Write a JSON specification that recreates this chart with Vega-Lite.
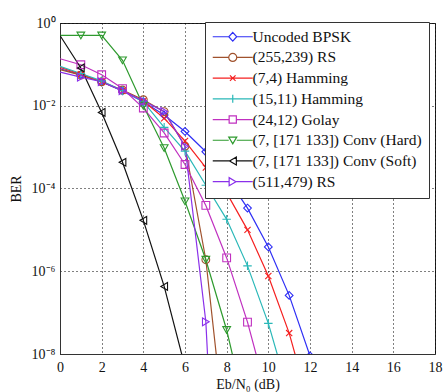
{
  "$schema": "https://vega.github.io/schema/vega-lite/v6.json",
  "autosize": {"type": "none"},
  "padding": {"left": 60, "top": 23, "right": 8, "bottom": 38},
  "width": 375,
  "height": 331,
  "config": {
    "view": {"stroke": "#222", "strokeWidth": 1},
    "axis": {"labelFont": "Liberation Serif", "titleFont": "Liberation Serif", "labelFontSize": 14, "titleFontSize": 14, "titleFontWeight": "normal", "labelColor": "#111", "titleColor": "#111", "gridColor": "#000", "gridDash": [1, 3], "gridOpacity": 1, "domainColor": "#333", "tickColor": "#333", "tickSize": 0},
    "legend": {"orient": "none", "legendX": 145, "legendY": -1, "strokeColor": "#333", "fillColor": "#ffffff", "padding": 7, "symbolOffset": 13, "labelOffset": 12, "symbolSize": 64, "symbolStrokeWidth": 1.2, "symbolFillColor": "transparent", "labelFont": "Liberation Serif", "labelFontSize": 15.5, "labelColor": "#111", "rowPadding": 3.7, "labelLimit": 300, "cornerRadius": 0}
  },
  "data": {"values": [
    {"code": "Uncoded BPSK", "snr": 0, "ber": 0.0786}, {"code": "Uncoded BPSK", "snr": 1, "ber": 0.0563}, {"code": "Uncoded BPSK", "snr": 2, "ber": 0.0375}, {"code": "Uncoded BPSK", "snr": 3, "ber": 0.0229}, {"code": "Uncoded BPSK", "snr": 4, "ber": 0.0125}, {"code": "Uncoded BPSK", "snr": 5, "ber": 0.00595}, {"code": "Uncoded BPSK", "snr": 6, "ber": 0.00239}, {"code": "Uncoded BPSK", "snr": 7, "ber": 0.000773}, {"code": "Uncoded BPSK", "snr": 8, "ber": 0.000191}, {"code": "Uncoded BPSK", "snr": 9, "ber": 3.36e-5}, {"code": "Uncoded BPSK", "snr": 10, "ber": 3.87e-6}, {"code": "Uncoded BPSK", "snr": 11, "ber": 2.61e-7}, {"code": "Uncoded BPSK", "snr": 12, "ber": 9.0e-9},
    {"code": "(255,239) RS", "snr": 0, "ber": 0.075}, {"code": "(255,239) RS", "snr": 1, "ber": 0.055}, {"code": "(255,239) RS", "snr": 2, "ber": 0.038}, {"code": "(255,239) RS", "snr": 3, "ber": 0.024}, {"code": "(255,239) RS", "snr": 4, "ber": 0.014}, {"code": "(255,239) RS", "snr": 5, "ber": 0.0072}, {"code": "(255,239) RS", "snr": 6, "ber": 0.00105}, {"code": "(255,239) RS", "snr": 7, "ber": 1.9e-6}, {"code": "(255,239) RS", "snr": 8, "ber": 5e-11},
    {"code": "(7,4) Hamming", "snr": 0, "ber": 0.085}, {"code": "(7,4) Hamming", "snr": 1, "ber": 0.058}, {"code": "(7,4) Hamming", "snr": 2, "ber": 0.038}, {"code": "(7,4) Hamming", "snr": 3, "ber": 0.023}, {"code": "(7,4) Hamming", "snr": 4, "ber": 0.013}, {"code": "(7,4) Hamming", "snr": 5, "ber": 0.005}, {"code": "(7,4) Hamming", "snr": 6, "ber": 0.0014}, {"code": "(7,4) Hamming", "snr": 7, "ber": 0.00032}, {"code": "(7,4) Hamming", "snr": 8, "ber": 7.8e-5}, {"code": "(7,4) Hamming", "snr": 9, "ber": 1.0e-5}, {"code": "(7,4) Hamming", "snr": 10, "ber": 7.7e-7}, {"code": "(7,4) Hamming", "snr": 11, "ber": 3.2e-8}, {"code": "(7,4) Hamming", "snr": 12, "ber": 5e-10},
    {"code": "(15,11) Hamming", "snr": 0, "ber": 0.09}, {"code": "(15,11) Hamming", "snr": 1, "ber": 0.06}, {"code": "(15,11) Hamming", "snr": 2, "ber": 0.04}, {"code": "(15,11) Hamming", "snr": 3, "ber": 0.023}, {"code": "(15,11) Hamming", "snr": 4, "ber": 0.0125}, {"code": "(15,11) Hamming", "snr": 5, "ber": 0.003}, {"code": "(15,11) Hamming", "snr": 6, "ber": 0.0008}, {"code": "(15,11) Hamming", "snr": 7, "ber": 0.00012}, {"code": "(15,11) Hamming", "snr": 8, "ber": 1.8e-5}, {"code": "(15,11) Hamming", "snr": 9, "ber": 1.35e-6}, {"code": "(15,11) Hamming", "snr": 10, "ber": 5.5e-8}, {"code": "(15,11) Hamming", "snr": 11, "ber": 1e-9},
    {"code": "(24,12) Golay", "snr": 0, "ber": 0.137}, {"code": "(24,12) Golay", "snr": 1, "ber": 0.098}, {"code": "(24,12) Golay", "snr": 2, "ber": 0.056}, {"code": "(24,12) Golay", "snr": 3, "ber": 0.026}, {"code": "(24,12) Golay", "snr": 4, "ber": 0.0088}, {"code": "(24,12) Golay", "snr": 5, "ber": 0.0022}, {"code": "(24,12) Golay", "snr": 6, "ber": 0.00038}, {"code": "(24,12) Golay", "snr": 7, "ber": 3.9e-5}, {"code": "(24,12) Golay", "snr": 8, "ber": 2.1e-6}, {"code": "(24,12) Golay", "snr": 9, "ber": 5.9e-8}, {"code": "(24,12) Golay", "snr": 10, "ber": 7.8e-10},
    {"code": "(7, [171 133]) Conv (Hard)", "snr": 0, "ber": 0.5}, {"code": "(7, [171 133]) Conv (Hard)", "snr": 1, "ber": 0.5}, {"code": "(7, [171 133]) Conv (Hard)", "snr": 2, "ber": 0.5}, {"code": "(7, [171 133]) Conv (Hard)", "snr": 3, "ber": 0.125}, {"code": "(7, [171 133]) Conv (Hard)", "snr": 4, "ber": 0.01}, {"code": "(7, [171 133]) Conv (Hard)", "snr": 5, "ber": 0.00095}, {"code": "(7, [171 133]) Conv (Hard)", "snr": 6, "ber": 4.9e-5}, {"code": "(7, [171 133]) Conv (Hard)", "snr": 7, "ber": 1.9e-6}, {"code": "(7, [171 133]) Conv (Hard)", "snr": 8, "ber": 3.8e-8}, {"code": "(7, [171 133]) Conv (Hard)", "snr": 9, "ber": 2.7e-10},
    {"code": "(7, [171 133]) Conv (Soft)", "snr": 0, "ber": 0.5}, {"code": "(7, [171 133]) Conv (Soft)", "snr": 1, "ber": 0.082}, {"code": "(7, [171 133]) Conv (Soft)", "snr": 2, "ber": 0.0069}, {"code": "(7, [171 133]) Conv (Soft)", "snr": 3, "ber": 0.00043}, {"code": "(7, [171 133]) Conv (Soft)", "snr": 4, "ber": 1.7e-5}, {"code": "(7, [171 133]) Conv (Soft)", "snr": 5, "ber": 4.3e-7}, {"code": "(7, [171 133]) Conv (Soft)", "snr": 6, "ber": 4.9e-9},
    {"code": "(511,479) RS", "snr": 0, "ber": 0.065}, {"code": "(511,479) RS", "snr": 1, "ber": 0.049}, {"code": "(511,479) RS", "snr": 2, "ber": 0.038}, {"code": "(511,479) RS", "snr": 3, "ber": 0.023}, {"code": "(511,479) RS", "snr": 4, "ber": 0.013}, {"code": "(511,479) RS", "snr": 5, "ber": 0.0073}, {"code": "(511,479) RS", "snr": 6, "ber": 0.00105}, {"code": "(511,479) RS", "snr": 7, "ber": 6e-8}, {"code": "(511,479) RS", "snr": 8, "ber": 1e-17}
  ]},
  "encoding": {
    "x": {"field": "snr", "type": "quantitative", "scale": {"domain": [0, 18], "nice": false}, "axis": {"values": [0, 2, 4, 6, 8, 10, 12, 14, 16, 18], "title": "Eb/N₀ (dB)", "grid": true, "labelPadding": 6, "titlePadding": 3, "labelFlush": false}},
    "y": {"field": "ber", "type": "quantitative", "scale": {"type": "log", "domain": [1e-8, 1], "nice": false}, "axis": {"values": [1e-8, 1e-6, 1e-4, 1e-2, 1], "title": "BER", "grid": true, "labelPadding": 5, "titlePadding": 8, "labelFlush": false, "labelExpr": "datum.value >= 0.5 ? '10⁰' : datum.value >= 0.005 ? '10⁻²' : datum.value >= 0.00005 ? '10⁻⁴' : datum.value >= 0.0000005 ? '10⁻⁶' : '10⁻⁸'"}}
  },
  "resolve": {"scale": {"shape": "independent", "color": "independent"}, "legend": {"shape": "independent", "color": "independent"}},
  "layer": [
    {
      "mark": {"type": "line", "clip": true, "strokeWidth": 1.2},
      "encoding": {"color": {"field": "code", "type": "nominal", "legend": null, "scale": {"domain": ["Uncoded BPSK", "(255,239) RS", "(7,4) Hamming", "(15,11) Hamming", "(24,12) Golay", "(7, [171 133]) Conv (Hard)", "(7, [171 133]) Conv (Soft)", "(511,479) RS"], "range": ["#2f2ff5", "#a0522d", "#f52020", "#2ab8b8", "#c030c0", "#2e9a2e", "#111111", "#8a30ea"]}}}
    },
    {
      "transform": [{"filter": "datum.snr >= 1"}],
      "mark": {"type": "point", "clip": true, "filled": false, "strokeWidth": 1.1, "size": 60, "opacity": 1},
      "encoding": {
        "color": {"field": "code", "type": "nominal", "legend": null, "scale": {"domain": ["Uncoded BPSK", "(255,239) RS", "(7,4) Hamming", "(15,11) Hamming", "(24,12) Golay", "(7, [171 133]) Conv (Hard)", "(7, [171 133]) Conv (Soft)", "(511,479) RS"], "range": ["#2f2ff5", "#a0522d", "#f52020", "#2ab8b8", "#c030c0", "#2e9a2e", "#111111", "#8a30ea"]}},
        "shape": {"field": "code", "type": "nominal", "scale": {"domain": ["Uncoded BPSK", "(255,239) RS", "(7,4) Hamming", "(15,11) Hamming", "(24,12) Golay", "(7, [171 133]) Conv (Hard)", "(7, [171 133]) Conv (Soft)", "(511,479) RS"], "range": ["diamond", "circle", "M-0.8,-0.8L0.8,0.8M-0.8,0.8L0.8,-0.8", "M-1.1,0H1.1M0,-1.1V1.1", "square", "triangle-down", "triangle-left", "triangle-right"]}, "legend": null}
      }
    },
    {
      "transform": [{"filter": "datum.snr > 100"}],
      "mark": {"type": "point", "filled": false, "strokeWidth": 1.2, "opacity": 1},
      "encoding": {
        "color": {"field": "code", "type": "nominal", "legend": {"title": null}, "scale": {"domain": ["Uncoded BPSK", "(255,239) RS", "(7,4) Hamming", "(15,11) Hamming", "(24,12) Golay", "(7, [171 133]) Conv (Hard)", "(7, [171 133]) Conv (Soft)", "(511,479) RS"], "range": ["#2f2ff5", "#a0522d", "#f52020", "#2ab8b8", "#c030c0", "#2e9a2e", "#111111", "#8a30ea"]}},
        "shape": {"field": "code", "type": "nominal", "legend": {"title": null}, "scale": {"domain": ["Uncoded BPSK", "(255,239) RS", "(7,4) Hamming", "(15,11) Hamming", "(24,12) Golay", "(7, [171 133]) Conv (Hard)", "(7, [171 133]) Conv (Soft)", "(511,479) RS"], "range": ["M-5,0H-1M1,0H5M0,-1.1L1,0L0,1.1L-1,0Z", "M-5,0H-1M1,0H5M1,0A1,1 0 1,1 -1,0A1,1 0 1,1 1,0", "M-5,0H5M-0.7,-0.7L0.7,0.7M-0.7,0.7L0.7,-0.7", "M-5,0H5M0,-1V1", "M-5,0H-0.9M0.9,0H5M-0.9,-0.9H0.9V0.9H-0.9Z", "M-5,0H-1M1,0H5M-1,-0.8H1L0,0.9Z", "M-5,0H-0.8M0.9,0H5M0.9,-1V1L-0.8,0Z", "M-5,0H-0.9M0.8,0H5M-0.9,-1V1L0.8,0Z"]}}
      }
    }
  ]
}
